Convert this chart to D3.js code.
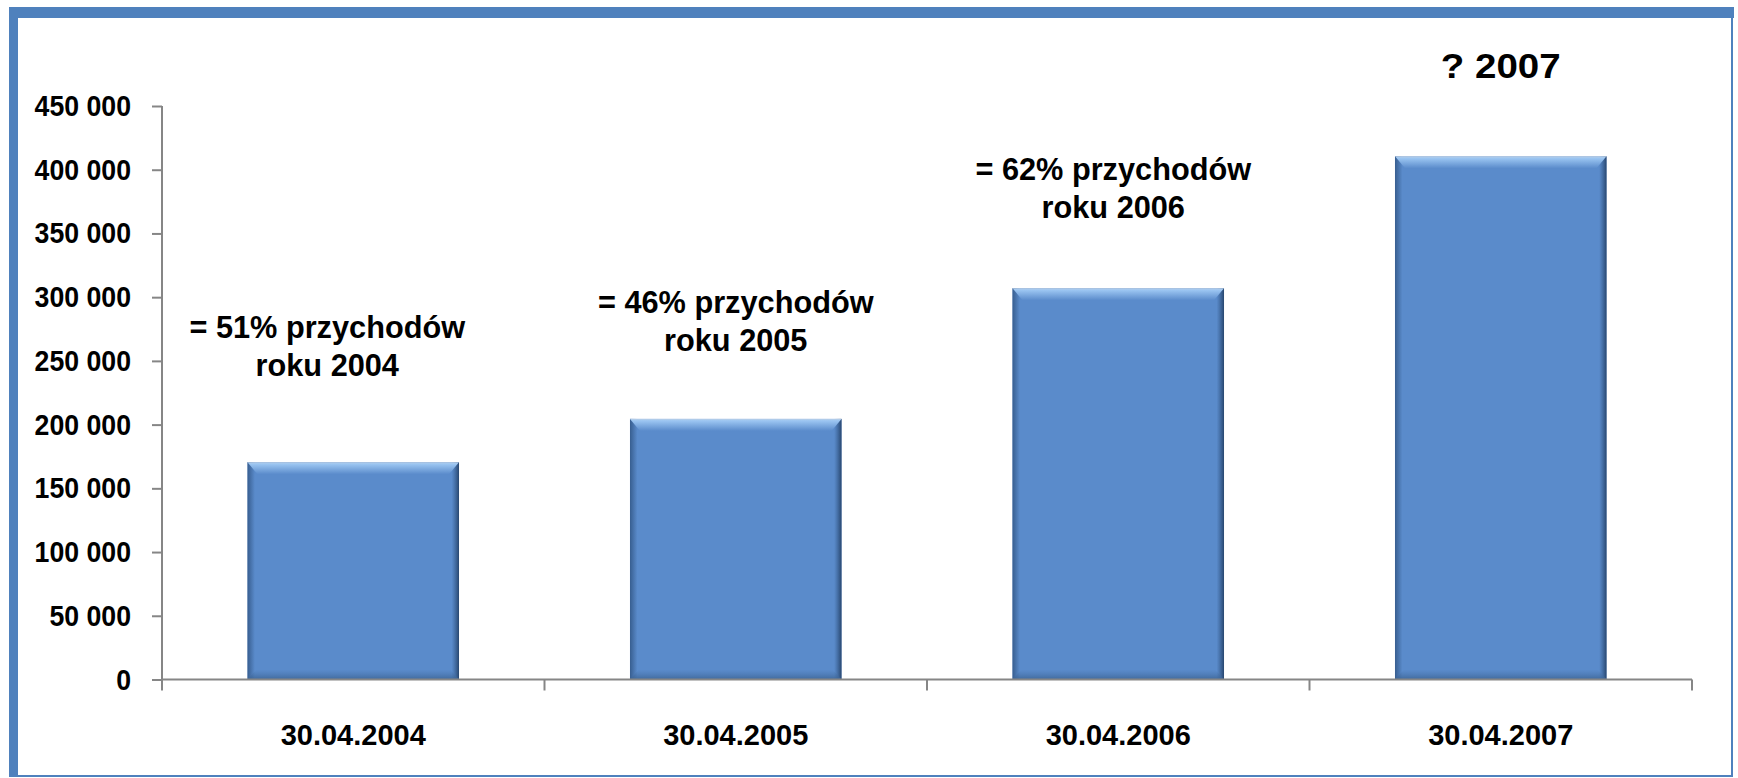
<!DOCTYPE html>
<html>
<head>
<meta charset="utf-8">
<script src="https://cdn.jsdelivr.net/npm/d3@7"></script>
<style>
  html, body { margin: 0; padding: 0; background: #fff; }
  svg { display: block; }
</style>
</head>
<body>
<svg id="svg" width="1738" height="778"></svg>
<script>
// dane wykresu
const categories = ["30.04.2004", "30.04.2005", "30.04.2006", "30.04.2007"];
const values = [170500, 204500, 307000, 410500];
const yTicks = [0, 50000, 100000, 150000, 200000, 250000, 300000, 350000, 400000, 450000];
const noteLine1 = ["= 51% przychodów", "= 46% przychodów", "= 62% przychodów", "? 2007"];
const noteLine2 = ["roku 2004", "roku 2005", "roku 2006", ""];

// układ opisów nad słupkami (przesunięcie od góry słupka, przesunięcie w poziomie, ściśnięcie)
const noteLift = [124, 106, 108, 78];
const noteShift = [-26, 0, -5, 0];
const noteScale = [0.96, 0.96, 0.96, 1.1];

const svg = d3.select("#svg");
const W = 1738, H = 778;
const blue = "#4F81BD";
const axisColor = "#868686";
const font = "'Liberation Sans', Arial, sans-serif";

//ramka
svg.append("rect").attr("x", 0).attr("y", 0).attr("width", W).attr("height", H).attr("fill", "#fff");
svg.append("rect").attr("x", 9).attr("y", 7).attr("width", 1725).attr("height", 11).attr("fill", blue);
svg.append("rect").attr("x", 9).attr("y", 7).attr("width", 9).attr("height", 770).attr("fill", blue);
svg.append("rect").attr("x", 1731).attr("y", 7).attr("width", 2).attr("height", 770).attr("fill", blue);
svg.append("rect").attr("x", 9).attr("y", 775).attr("width", 1724).attr("height", 2).attr("fill", blue);

// skale
const x = d3.scaleBand().domain(categories).range([162, 1692]).paddingInner(0.447).paddingOuter(0.2235);
const y = d3.scaleLinear().domain([0, 450000]).range([679.5, 106]);

const fmt = d3.formatLocale({ decimal: ",", thousands: " ", grouping: [3], currency: ["", ""] }).format(",");

//gradienty słupka
const defs = svg.append("defs");
const topGrad = defs.append("linearGradient").attr("id", "topGrad").attr("x1", 0).attr("y1", 0).attr("x2", 0).attr("y2", 1);
topGrad.append("stop").attr("offset", 0).attr("stop-color", "#b9cde4");
topGrad.append("stop").attr("offset", 0.15).attr("stop-color", "#9cc6f2");
topGrad.append("stop").attr("offset", 1).attr("stop-color", "#5a8bcb");
const sideGrad = defs.append("linearGradient").attr("id", "sideGrad").attr("x1", 0).attr("y1", 0).attr("x2", 1).attr("y2", 0);
sideGrad.append("stop").attr("offset", 0).attr("stop-color", "#2c4f7c").attr("stop-opacity", 0.75);
sideGrad.append("stop").attr("offset", 0.035).attr("stop-color", "#2c4f7c").attr("stop-opacity", 0);
sideGrad.append("stop").attr("offset", 0.965).attr("stop-color", "#2c4f7c").attr("stop-opacity", 0);
sideGrad.append("stop").attr("offset", 1).attr("stop-color", "#1f3a5e").attr("stop-opacity", 0.85);
const botGrad = defs.append("linearGradient").attr("id", "botGrad").attr("x1", 0).attr("y1", 0).attr("x2", 0).attr("y2", 1);
botGrad.append("stop").attr("offset", 0).attr("stop-color", "#4a76ad").attr("stop-opacity", 0);
botGrad.append("stop").attr("offset", 1).attr("stop-color", "#3d6596").attr("stop-opacity", 0.9);

// słupki
const bars = svg.append("g").selectAll("g").data(values).join("g");
bars.append("rect")
  .attr("x", (d, i) => x(categories[i]))
  .attr("y", d => y(d))
  .attr("width", x.bandwidth())
  .attr("height", d => y(0) - y(d))
  .attr("fill", "#5a8bcb");
bars.append("rect")
  .attr("x", (d, i) => x(categories[i]))
  .attr("y", d => y(d))
  .attr("width", x.bandwidth())
  .attr("height", d => y(0) - y(d))
  .attr("fill", "url(#sideGrad)");
bars.append("path")
  .attr("d", (d, i) => {
    const x0 = x(categories[i]), x1 = x0 + x.bandwidth(), t = y(d);
    return `M ${x0} ${t} L ${x1} ${t} L ${x1 - 10} ${t + 12} L ${x0 + 10} ${t + 12} Z`;
  })
  .attr("fill", "url(#topGrad)");
bars.append("path")
  .attr("d", (d, i) => {
    const x0 = x(categories[i]), x1 = x0 + x.bandwidth(), b = y(0);
    return `M ${x0} ${b} L ${x1} ${b} L ${x1 - 9} ${b - 10} L ${x0 + 9} ${b - 10} Z`;
  })
  .attr("fill", "url(#botGrad)");

// oś Y
const yAxis = svg.append("g").attr("transform", "translate(162,0)")
  .call(d3.axisLeft(y).tickValues(yTicks).tickSize(10).tickFormat(() => ""));
yAxis.select(".domain").attr("stroke", axisColor).attr("stroke-width", 2).attr("d", `M 0 ${y(450000)} V ${y(0)}`);
yAxis.selectAll(".tick line").attr("stroke", axisColor).attr("stroke-width", 2);

svg.append("g").selectAll("g").data(yTicks).join("g")
  .attr("transform", d => `translate(131,${y(d) + 10}) scale(0.92,1)`)
  .append("text")
  .attr("text-anchor", "end")
  .attr("font-family", font).attr("font-weight", "bold").attr("font-size", 29)
  .attr("fill", "#000")
  .text(d => fmt(d));

// oś X
const step = x.step();
const x0 = x.range()[0];
svg.append("line").attr("x1", x0).attr("x2", x.range()[1]).attr("y1", y(0)).attr("y2", y(0))
  .attr("stroke", axisColor).attr("stroke-width", 2);
svg.append("g").selectAll("line").data(d3.range(categories.length + 1)).join("line")
  .attr("x1", i => x0 + i * step).attr("x2", i => x0 + i * step)
  .attr("y1", y(0)).attr("y2", y(0) + 11)
  .attr("stroke", axisColor).attr("stroke-width", 2);

svg.append("g").selectAll("text").data(categories).join("text")
  .attr("x", d => x(d) + x.bandwidth() / 2)
  .attr("y", 745)
  .attr("text-anchor", "middle")
  .attr("font-family", font).attr("font-weight", "bold").attr("font-size", 29)
  .attr("fill", "#000")
  .text(d => d);

// opisy nad słupkami
const notes = svg.append("g").selectAll("g").data(values).join("g")
  .attr("transform", (d, i) => `translate(${x(categories[i]) + x.bandwidth() / 2 + noteShift[i]},${y(d) - noteLift[i]}) scale(${noteScale[i]},1)`);
notes.append("text")
  .attr("text-anchor", "middle")
  .attr("font-family", font).attr("font-weight", "bold")
  .attr("font-size", (d, i) => noteLine2[i] ? 32 : 35)
  .attr("fill", "#000")
  .text((d, i) => noteLine1[i]);
notes.append("text")
  .attr("y", 38)
  .attr("text-anchor", "middle")
  .attr("font-family", font).attr("font-weight", "bold").attr("font-size", 32)
  .attr("fill", "#000")
  .text((d, i) => noteLine2[i]);
</script>
</body>
</html>
